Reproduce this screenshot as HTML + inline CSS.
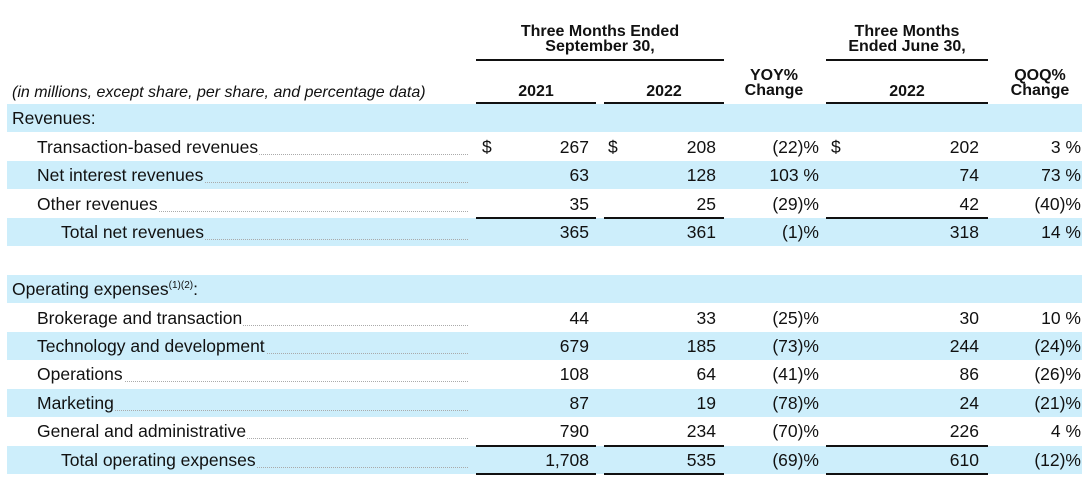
<!DOCTYPE html>
<html><head><meta charset="utf-8"><style>
body{margin:0;width:1092px;height:485px;background:#fff;position:relative;overflow:hidden;font-family:"Liberation Sans",Arial,sans-serif;color:#111}
.band{position:absolute;left:7px;width:1075px;height:28px;background:#cdeefb}
.t{position:absolute;font-size:17.5px;line-height:18px;white-space:nowrap}
.r{text-align:right}
.h{position:absolute;font-size:16px;font-weight:bold;line-height:15px;text-align:center;white-space:nowrap}
.ln{position:absolute;height:2px;background:#111}
.lead{position:absolute;border-bottom:1px dotted #aaa;height:0}
</style></head><body>
<div class="h" style="left:476px;width:248px;top:24px">Three Months Ended<br>September 30,</div>
<div class="h" style="left:826px;width:162px;top:24px">Three Months<br>Ended June 30,</div>
<div class="ln" style="left:476px;width:248px;top:59px"></div>
<div class="ln" style="left:826px;width:162px;top:59px"></div>
<div class="h" style="left:476px;width:120px;top:84px">2021</div>
<div class="h" style="left:604px;width:120px;top:84px">2022</div>
<div class="h" style="left:734px;width:80px;top:68px">YOY%<br>Change</div>
<div class="h" style="left:826px;width:162px;top:84px">2022</div>
<div class="h" style="left:1000px;width:80px;top:68px">QOQ%<br>Change</div>
<div class="t" style="left:12px;top:84px;font-style:italic;font-size:16px">(in millions, except share, per share, and percentage data)</div>
<div class="ln" style="left:476px;width:120px;top:102px"></div>
<div class="ln" style="left:604px;width:120px;top:102px"></div>
<div class="ln" style="left:826px;width:162px;top:102px"></div>

<div class="band" style="top:104px"></div>
<div class="band" style="top:161px"></div>
<div class="band" style="top:218px"></div>
<div class="band" style="top:275px"></div>
<div class="band" style="top:332px"></div>
<div class="band" style="top:389px"></div>
<div class="band" style="top:446px"></div>

<div class="ln" style="left:476px;width:120px;top:217px"></div>
<div class="ln" style="left:604px;width:120px;top:217px"></div>
<div class="ln" style="left:826px;width:162px;top:217px"></div>
<div class="ln" style="left:476px;width:120px;top:445px"></div>
<div class="ln" style="left:604px;width:120px;top:445px"></div>
<div class="ln" style="left:826px;width:162px;top:445px"></div>
<div class="ln" style="left:476px;width:120px;top:473px"></div>
<div class="ln" style="left:604px;width:120px;top:473px"></div>
<div class="ln" style="left:826px;width:162px;top:473px"></div>

<div class="t" style="left:12px;top:109px">Revenues:</div>
<div class="t" style="left:12px;top:280px">Operating expenses<sup style="font-size:10px;line-height:0">(1)(2)</sup>:</div>

<div id="rows"></div>
<script>
var rows=[
[138,37,"Transaction-based revenues",1,"267","208","(22)%","202","3 %",0],
[166,37,"Net interest revenues",0,"63","128","103 %","74","73 %",1],
[195,37,"Other revenues",0,"35","25","(29)%","42","(40)%",0],
[223,61,"Total net revenues",0,"365","361","(1)%","318","14 %",1],
[309,37,"Brokerage and transaction",0,"44","33","(25)%","30","10 %",0],
[337,37,"Technology and development",0,"679","185","(73)%","244","(24)%",1],
[365,37,"Operations",0,"108","64","(41)%","86","(26)%",0],
[394,37,"Marketing",0,"87","19","(78)%","24","(21)%",1],
[422,37,"General and administrative",0,"790","234","(70)%","226","4 %",0],
[451,61,"Total operating expenses",0,"1,708","535","(69)%","610","(12)%",1]];
var h="";
rows.forEach(function(r){var y=r[0];var bg=r[9]?"#cdeefb":"#fff";
h+='<div class="lead" style="left:'+r[1]+'px;width:'+(468-r[1])+'px;top:'+(y+16)+'px"></div>';
h+='<div class="t" style="left:'+r[1]+'px;top:'+y+'px;background:'+bg+';padding-right:1px">'+r[2]+'</div>';
if(r[3]){h+='<div class="t" style="left:482px;top:'+y+'px">$</div><div class="t" style="left:608px;top:'+y+'px">$</div><div class="t" style="left:831px;top:'+y+'px">$</div>';}
h+='<div class="t r" style="right:503px;top:'+y+'px">'+r[4]+'</div>';
h+='<div class="t r" style="right:376px;top:'+y+'px">'+r[5]+'</div>';
h+='<div class="t r" style="right:273px;top:'+y+'px">'+r[6]+'</div>';
h+='<div class="t r" style="right:113px;top:'+y+'px">'+r[7]+'</div>';
h+='<div class="t r" style="right:11px;top:'+y+'px">'+r[8]+'</div>';
});
document.getElementById("rows").innerHTML=h;
</script>
</body></html>
